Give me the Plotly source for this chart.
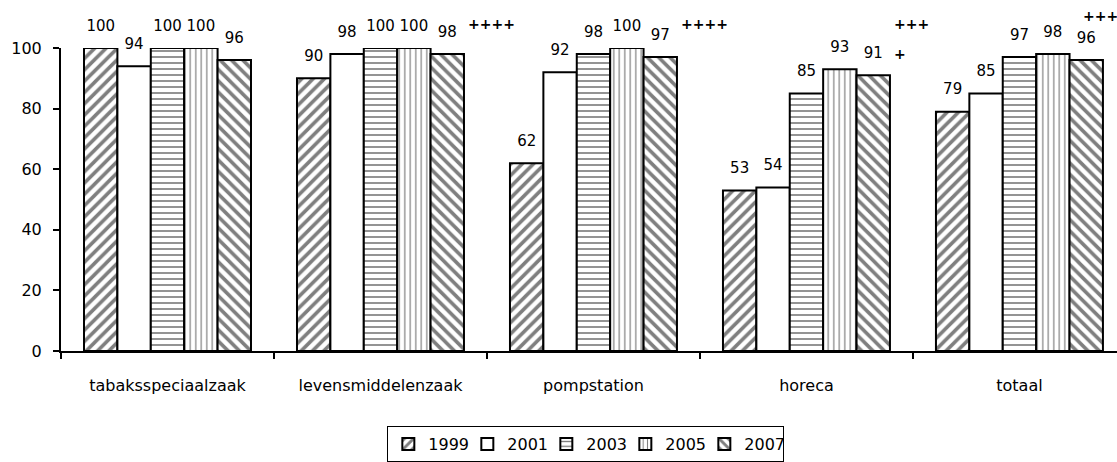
import plotly.graph_objects as go

categories = ["tabaksspeciaalzaak", "levensmiddelenzaak", "pompstation", "horeca", "totaal"]
years = ["1999", "2001", "2003", "2005", "2007"]
values = {
    "1999": [100, 90, 62, 53, 79],
    "2001": [94, 98, 92, 54, 85],
    "2003": [100, 100, 98, 85, 97],
    "2005": [100, 100, 100, 93, 98],
    "2007": [96, 98, 97, 91, 96],
}
patterns = {"1999": "/", "2001": "", "2003": "-", "2005": "|", "2007": "\\"}
pattern_size = {"1999": 8, "2001": 8, "2003": 6, "2005": 5.5, "2007": 8}
pattern_sol = {"1999": 0.45, "2001": 0.2, "2003": 0.28, "2005": 0.22, "2007": 0.45}

# significance markers: (category index, text, y level, x offset in category units)
sig_marks = [
    (1, "++++", 108, 0.40),
    (2, "++++", 108, 0.40),
    (3, "+++", 108, 0.40),
    (3, "+", 98, 0.40),
    (4, "+++", 110.5, 0.29),
]

FONT = "DejaVu Sans"
Y_MAX = 100

fig = go.Figure()
for yr in years:
    fig.add_trace(go.Bar(
        name=yr,
        x=categories,
        y=values[yr],
        offsetgroup=yr,
        marker=dict(
            color="white",
            line=dict(color="black", width=2),
            pattern=dict(shape=patterns[yr], fgcolor="black", bgcolor="white",
                         size=pattern_size[yr], solidity=pattern_sol[yr]),
        ),
    ))

# value labels, grouped like the bars
for yr in years:
    fig.add_trace(go.Scatter(
        x=categories,
        y=values[yr],
        offsetgroup=yr,
        mode="markers+text",
        text=[str(v) for v in values[yr]],
        textposition="top center",
        textfont=dict(family=FONT, size=15, color="black"),
        marker=dict(size=20, color="rgba(0,0,0,0)"),
        cliponaxis=False,
        showlegend=False,
        hoverinfo="skip",
    ))

for ci, txt, yv, off in sig_marks:
    fig.add_annotation(x=ci + off, y=yv / Y_MAX, xref="x", yref="paper", text=f"<b>{txt}</b>",
                       showarrow=False, xanchor="left", yanchor="middle",
                       font=dict(family=FONT, size=14, color="black"))

fig.update_layout(
    width=1117, height=462,
    margin=dict(l=61, r=0, t=48, b=111),
    paper_bgcolor="white", plot_bgcolor="white",
    barmode="group", bargap=0.216, bargroupgap=0,
    scattermode="group", scattergap=0.216,
    font=dict(family=FONT, size=16, color="black"),
    showlegend=True,
    legend=dict(orientation="h", x=0.497, xanchor="center", y=-0.2475, yanchor="top",
                bordercolor="black", borderwidth=1, itemwidth=30, entrywidth=34,
                font=dict(family=FONT, size=16, color="black")),
)
fig.update_xaxes(
    type="category", range=[-0.5, 4.458], showline=True, linecolor="black", linewidth=2,
    ticks="outside", tickson="boundaries", ticklen=6, tickwidth=2, tickcolor="black",
    ticklabelstandoff=19, showgrid=False, zeroline=False, automargin=False,
    tickfont=dict(family=FONT, size=16, color="black"),
)
fig.update_yaxes(
    range=[0, Y_MAX], tickvals=[0, 20, 40, 60, 80, 100], showline=True, linecolor="black",
    linewidth=2, ticks="outside", ticklen=6, tickwidth=2, tickcolor="black",
    ticklabelstandoff=8, showgrid=False, zeroline=False, automargin=False,
    tickfont=dict(family=FONT, size=16, color="black"),
)

fig.write_html("out.html", config={"displayModeBar": False},
               post_script="document.body.style.margin='0px';")
